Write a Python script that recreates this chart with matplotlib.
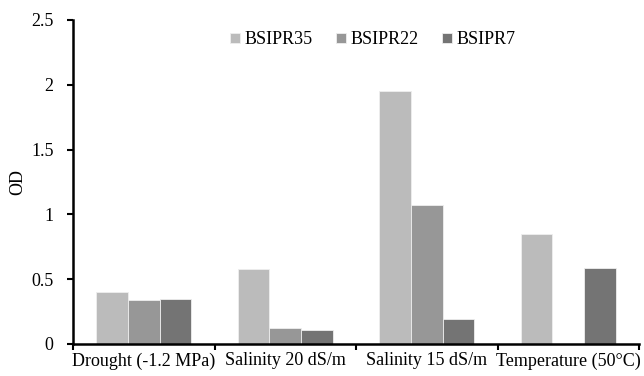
import numpy as np
import matplotlib
matplotlib.use("Agg")
from matplotlib import pyplot as plt

categories = ["Drought (-1.2 MPa)", "Salinity 20 dS/m", "Salinity 15 dS/m", "Temperature (50°C)"]
bsipr35 = [0.40, 0.58, 1.95, 0.85]
bsipr22 = [0.34, 0.12, 1.07, 0.0]
bsipr7 = [0.35, 0.11, 0.19, 0.59]

plt.rcParams["font.family"] = ["Liberation Serif", "DejaVu Serif"]
plt.rcParams["font.size"] = 13

fig = plt.figure(figsize=(6.44, 3.76), dpi=100)
ax = fig.add_axes([73 / 644, 32 / 376, 566 / 644, 324 / 376])

x = np.arange(len(categories))
w = 0.223
series = [("BSIPR35", bsipr35, "#bbbbbb"),
          ("BSIPR22", bsipr22, "#979797"),
          ("BSIPR7", bsipr7, "#747474")]
for i, (name, vals, col) in enumerate(series):
    ax.bar(x + (i - 1) * w, vals, w, color=col, edgecolor="#eeeeee",
           linewidth=0.6, label=name)

ax.set_xlim(-0.5, len(categories) - 0.5)
ax.set_ylim(0, 2.5)
ax.set_yticks([0, 0.5, 1, 1.5, 2, 2.5])
ax.set_yticklabels(["0", "0.5", "1", "1.5", "2", "2.5"])
# boundary ticks between groups, labels centred on the groups
ax.set_xticks(np.arange(len(categories) + 1) - 0.5)
ax.set_xticklabels([])
ax.set_xticks(x, minor=True)
ax.set_xticklabels(categories, minor=True)
ax.tick_params(axis="x", which="major", length=4, width=1.5, direction="out")
ax.tick_params(axis="x", which="minor", length=0, pad=6)
ax.tick_params(axis="y", length=4, width=1.5, direction="out", pad=10)

for s in ["top", "right"]:
    ax.spines[s].set_visible(False)
for s in ["left", "bottom"]:
    ax.spines[s].set_linewidth(1.8)

ax.set_ylabel("OD")
ax.yaxis.set_label_coords(-0.083, 0.5)
ax.legend(loc="upper center", bbox_to_anchor=(0.53, 1.015), ncol=3, frameon=False,
          handlelength=0.55, handleheight=0.55, handletextpad=0.25, columnspacing=1.3)

fig.savefig("out.png", dpi=100)
